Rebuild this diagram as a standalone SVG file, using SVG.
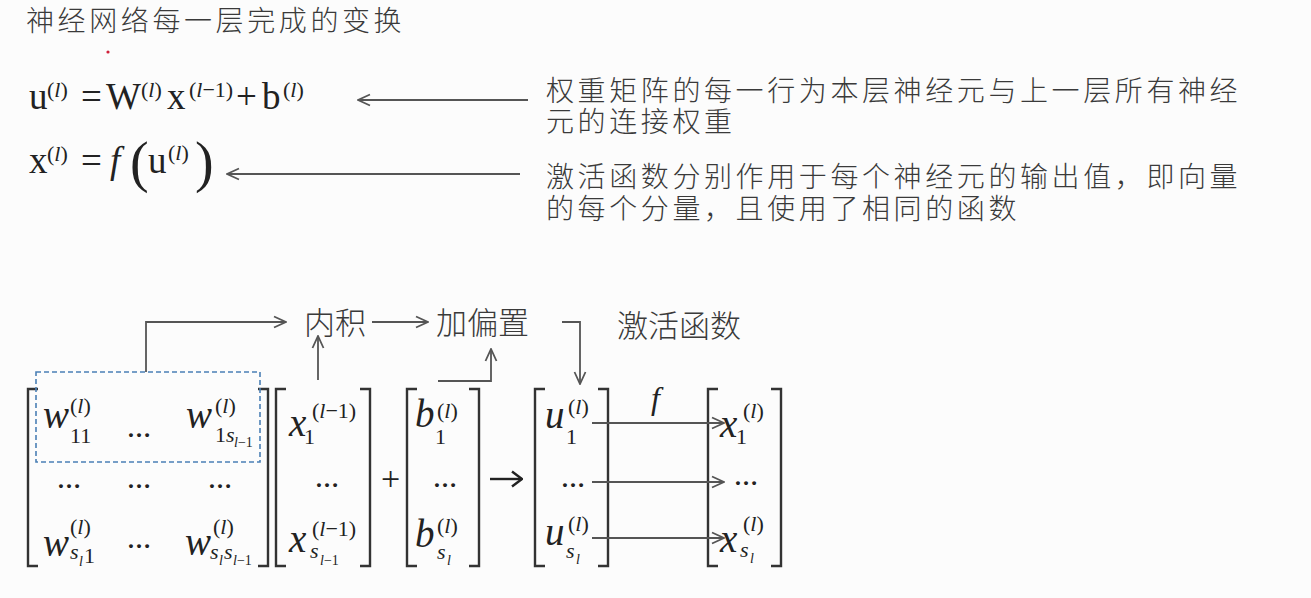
<svg xmlns="http://www.w3.org/2000/svg" width="1311" height="598" viewBox="0 0 1311 598">
<style>
.m{font-family:"Liberation Serif","Times New Roman",serif;fill:#222}
.i{font-style:italic}
.L{font-size:37px}
.M{font-size:39px}
.s{font-size:22px}
.ss{font-size:14px}
.d{font-size:24px;font-weight:bold}
.cjk{font-family:"Noto Sans CJK SC",sans-serif;font-size:28px;font-weight:300;fill:#3a3a3a;letter-spacing:3.6px}
.lbl{font-family:"Noto Sans CJK SC",sans-serif;font-size:31px;font-weight:300;fill:#3a3a3a}
.ln{stroke:#555;stroke-width:1.8;fill:none}
.br{stroke:#333;stroke-width:2.4;fill:none}
</style>
<defs>
<marker id="ah" viewBox="0 0 14 14" refX="13" refY="7" markerWidth="14" markerHeight="14" markerUnits="userSpaceOnUse" orient="auto">
<path d="M1,1.5 L13,7 L1,12.5" fill="none" stroke="#555" stroke-width="1.8"/>
</marker>
<marker id="ah2" viewBox="0 0 14 18" refX="13" refY="9" markerWidth="14" markerHeight="18" markerUnits="userSpaceOnUse" orient="auto">
<path d="M3,1.5 L13,9 L3,16.5" fill="none" stroke="#222" stroke-width="2.4"/>
</marker>
</defs>
<rect width="1311" height="598" fill="#fcfcfc"/>

<g id="title"><text class="cjk" x="26" y="31">神经网络每一层完成的变换</text></g>
<circle cx="108" cy="52" r="1.6" fill="#d0203a"/>

<g id="eq1" class="m">
<text class="L" x="29" y="109">u</text>
<text class="s" x="47" y="97">(<tspan class="i">l</tspan>)</text>
<text class="L" x="81" y="109">=</text>
<text class="L" x="106" y="109">W</text>
<text class="s" x="141" y="97">(<tspan class="i">l</tspan>)</text>
<text class="L" x="167" y="109">x</text>
<text class="s" x="189" y="97">(<tspan class="i">l</tspan>−1)</text>
<text class="L" x="236" y="109">+</text>
<text class="L" x="262" y="109">b</text>
<text class="s" x="283" y="97">(<tspan class="i">l</tspan>)</text>
</g>

<g id="eq2" class="m">
<text class="L" x="29" y="173">x</text>
<text class="s" x="47" y="161">(<tspan class="i">l</tspan>)</text>
<text class="L" x="81" y="173">=</text>
<text class="L i" x="110" y="173">f</text>
<text x="130" y="181" font-size="56">(</text>
<text class="L" x="148" y="173">u</text>
<text class="s" x="168" y="160">(<tspan class="i">l</tspan>)</text>
<text x="195" y="181" font-size="56">)</text>
</g>

<g id="note1">
<text class="cjk" x="546" y="101">权重矩阵的每一行为本层神经元与上一层所有神经</text>
<text class="cjk" x="546" y="132">元的连接权重</text>
</g>
<g id="note2">
<text class="cjk" x="546" y="187">激活函数分别作用于每个神经元的输出值，即向量</text>
<text class="cjk" x="546" y="219">的每个分量，且使用了相同的函数</text>
</g>

<g id="labels">
<text id="inner" class="lbl" x="304" y="334">内积</text>
<text id="bias" class="lbl" x="436" y="334">加偏置</text>
<text id="act" class="lbl" x="617" y="337">激活函数</text>
<text id="flabel" class="m i" x="651" y="409" font-size="32">f</text>
</g>

<g id="matW" class="m">
<path class="br" d="M38,389 H28 V566 H38 M258,389 H268 V566 H258"/>
<rect x="36" y="372" width="224" height="90" fill="none" stroke="#4a7fb5" stroke-width="1.6" stroke-dasharray="5 3"/>
<text class="M i" x="43" y="428">w</text>
<text class="s" x="70" y="413">(<tspan class="i">l</tspan>)</text>
<text class="s" x="70" y="443">11</text>
<text class="d" x="127" y="437">…</text>
<text class="M i" x="186" y="428">w</text>
<text class="s" x="215" y="413">(<tspan class="i">l</tspan>)</text>
<text class="s" x="215" y="442">1<tspan class="i">s</tspan></text>
<text class="ss" x="234" y="447"><tspan class="i">l</tspan>−1</text>
<text class="d" x="57" y="488">…</text>
<text class="d" x="127" y="488">…</text>
<text class="d" x="208" y="488">…</text>
<text class="M i" x="43" y="556">w</text>
<text class="s" x="70" y="534">(<tspan class="i">l</tspan>)</text>
<text class="s i" x="70" y="559">s</text>
<text class="ss i" x="79" y="566">l</text>
<text class="s" x="84" y="563">1</text>
<text class="d" x="127" y="548">…</text>
<text class="M i" x="185" y="555">w</text>
<text class="s" x="213" y="534">(<tspan class="i">l</tspan>)</text>
<text class="s i" x="210" y="559">s</text>
<text class="ss i" x="219" y="565">l</text>
<text class="s i" x="224" y="559">s</text>
<text class="ss" x="233" y="565"><tspan class="i">l</tspan>−1</text>
</g>

<g id="vecX" class="m">
<path class="br" d="M286,389 H276 V566 H286 M360,389 H370 V566 H360"/>
<text class="M i" x="289" y="436">x</text>
<text class="s" x="312" y="418">(<tspan class="i">l</tspan>−1)</text>
<text class="s" x="304" y="444">1</text>
<text class="d" x="315" y="487">…</text>
<text class="M i" x="289" y="552">x</text>
<text class="s" x="312" y="536">(<tspan class="i">l</tspan>−1)</text>
<text class="s i" x="310" y="558">s</text>
<text class="ss" x="320" y="565"><tspan class="i">l</tspan>−1</text>
</g>

<text id="plus" class="m" x="381" y="490" font-size="34">+</text>

<g id="vecB" class="m">
<path class="br" d="M417,389 H407 V566 H417 M469,389 H479 V566 H469"/>
<text class="M i" x="415" y="427">b</text>
<text class="s" x="437" y="418">(<tspan class="i">l</tspan>)</text>
<text class="s" x="435" y="444">1</text>
<text class="d" x="433" y="487">…</text>
<text class="M i" x="415" y="547">b</text>
<text class="s" x="437" y="533">(<tspan class="i">l</tspan>)</text>
<text class="s i" x="437" y="559">s</text>
<text class="ss i" x="447" y="565">l</text>
</g>

<g id="vecU" class="m">
<path class="br" d="M545,389 H535 V566 H545 M598,389 H608 V566 H598"/>
<text class="M i" x="545" y="428">u</text>
<text class="s" x="568" y="414">(<tspan class="i">l</tspan>)</text>
<text class="s" x="566" y="444">1</text>
<text class="d" x="561" y="487">…</text>
<text class="M i" x="545" y="545">u</text>
<text class="s" x="568" y="531">(<tspan class="i">l</tspan>)</text>
<text class="s i" x="566" y="558">s</text>
<text class="ss i" x="576" y="564">l</text>
</g>

<g id="vecXo" class="m">
<path class="br" d="M718,389 H708 V566 H718 M771,389 H781 V566 H771"/>
<text class="M i" x="720" y="437">x</text>
<text class="s" x="743" y="418">(<tspan class="i">l</tspan>)</text>
<text class="s" x="736" y="444">1</text>
<text class="d" x="734" y="485">…</text>
<text class="M i" x="720" y="552">x</text>
<text class="s" x="743" y="531">(<tspan class="i">l</tspan>)</text>
<text class="s i" x="740" y="557">s</text>
<text class="ss i" x="750" y="563">l</text>
</g>

<g id="connectors">
<path class="ln" d="M528,100 H358" marker-end="url(#ah)"/>
<path class="ln" d="M520,174 H227" marker-end="url(#ah)"/>
<path class="ln" d="M146,372 V322 H286" marker-end="url(#ah)"/>
<path class="ln" d="M372,322 H428" marker-end="url(#ah)"/>
<path class="ln" d="M318,380 V336" marker-end="url(#ah)"/>
<path class="ln" d="M438,381 H491 V349" marker-end="url(#ah)"/>
<path class="ln" d="M562,322 H580 V384" marker-end="url(#ah)"/>
<path d="M490,479 H522" fill="none" stroke="#222" stroke-width="2.4" marker-end="url(#ah2)"/>
<path class="ln" d="M592,423 H724" marker-end="url(#ah)"/>
<path class="ln" d="M592,482 H724" marker-end="url(#ah)"/>
<path class="ln" d="M592,538 H724" marker-end="url(#ah)"/>
</g>
</svg>
